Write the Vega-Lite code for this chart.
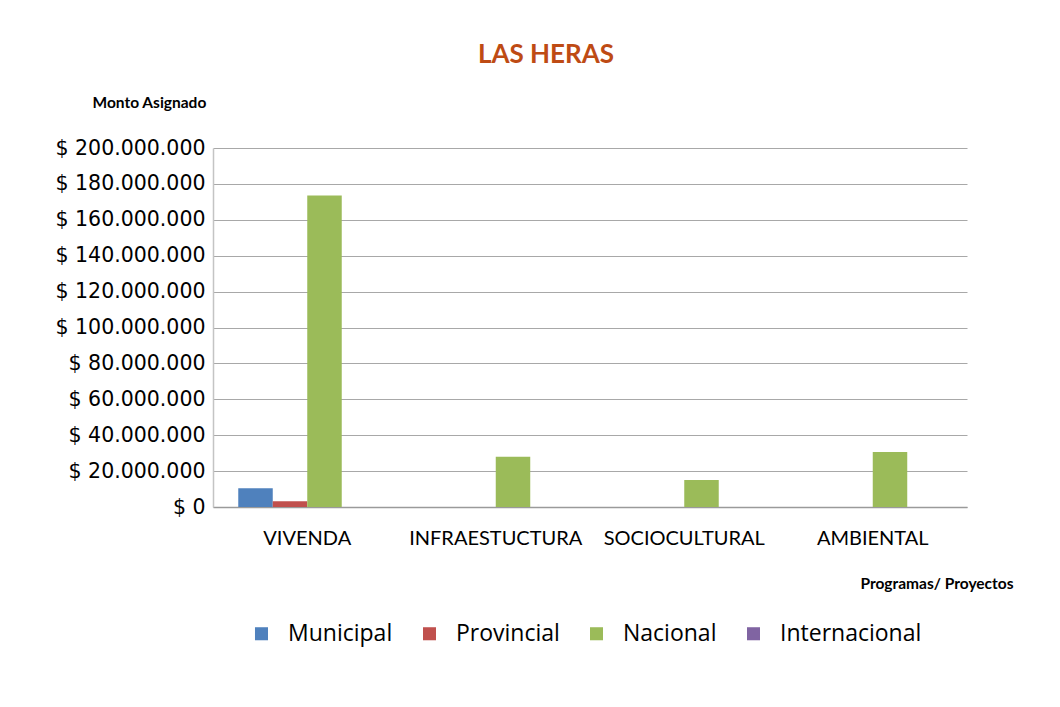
{
  "$schema": "https://vega.github.io/schema/vega-lite/v6.json",
  "width": 754,
  "height": 359,
  "autosize": {"type": "none"},
  "padding": {"left": 213, "top": 148, "right": 93, "bottom": 200},
  "background": "white",
  "title": {
    "text": "LAS HERAS",
    "font": "Lato",
    "fontSize": 26,
    "fontWeight": "bold",
    "color": "#BE4B14",
    "anchor": "middle",
    "frame": "group",
    "dx": -44,
    "dy": -23
  },
  "data": {
    "values": [
      {"programa": "VIVENDA", "fuente": "Municipal", "monto": 10400000},
      {"programa": "VIVENDA", "fuente": "Provincial", "monto": 3200000},
      {"programa": "VIVENDA", "fuente": "Nacional", "monto": 173500000},
      {"programa": "INFRAESTUCTURA", "fuente": "Nacional", "monto": 28000000},
      {"programa": "SOCIOCULTURAL", "fuente": "Nacional", "monto": 15000000},
      {"programa": "AMBIENTAL", "fuente": "Nacional", "monto": 30600000}
    ]
  },
  "mark": {"type": "bar"},
  "encoding": {
    "x": {
      "field": "programa",
      "type": "nominal",
      "sort": ["VIVENDA", "INFRAESTUCTURA", "SOCIOCULTURAL", "AMBIENTAL"],
      "scale": {"paddingInner": 0.268, "paddingOuter": 0.134},
      "axis": {
        "title": "Programas/ Proyectos",
        "titleFont": "Lato",
        "titleFontSize": 15.5,
        "titleFontWeight": "bold",
        "titleColor": "#000000",
        "titleAnchor": "end",
        "titleAlign": "right",
        "titleX": 800,
        "titleY": 69,
        "labelAngle": 0,
        "labelFont": "Lato",
        "labelFontSize": 20,
        "labelColor": "#000000",
        "labelPadding": 21,
        "ticks": false,
        "domainColor": "#9a9a9a",
        "domainWidth": 1.5
      }
    },
    "xOffset": {
      "field": "fuente",
      "type": "nominal",
      "scale": {"domain": ["Municipal", "Provincial", "Nacional", "Internacional"], "paddingInner": 0, "paddingOuter": 0}
    },
    "y": {
      "field": "monto",
      "type": "quantitative",
      "scale": {"domain": [0, 200000000], "nice": false},
      "axis": {
        "title": "Monto Asignado",
        "titleFont": "Lato",
        "titleFontSize": 15.5,
        "titleFontWeight": "bold",
        "titleColor": "#000000",
        "titleAngle": 0,
        "titleAlign": "left",
        "titleBaseline": "middle",
        "titleX": -121,
        "titleY": -46,
        "values": [0, 20000000, 40000000, 60000000, 80000000, 100000000, 120000000, 140000000, 160000000, 180000000, 200000000],
        "labelExpr": "'$ ' + replace(format(datum.value, ',.0f'), regexp(',', 'g'), '.')",
        "labelFont": "DejaVu Sans",
        "labelFontSize": 20.5,
        "labelColor": "#000000",
        "labelPadding": 8,
        "ticks": false,
        "grid": true,
        "gridColor": "#a8a8a8",
        "gridWidth": 1,
        "domainColor": "#c4c4c4",
        "domainWidth": 1.5
      }
    },
    "color": {
      "field": "fuente",
      "type": "nominal",
      "scale": {
        "domain": ["Municipal", "Provincial", "Nacional", "Internacional"],
        "range": ["#4F81BD", "#C0504D", "#9BBB59", "#8064A2"]
      },
      "legend": {
        "title": null,
        "orient": "none",
        "direction": "horizontal",
        "legendX": 37,
        "legendY": 474,
        "symbolType": "square",
        "symbolSize": 170,
        "symbolStrokeWidth": 0,
        "symbolOpacity": 1,
        "labelFont": "Open Sans",
        "labelFontSize": 23,
        "labelColor": "#000000",
        "labelOffset": 15,
        "columnPadding": 25
      }
    }
  },
  "config": {
    "view": {"stroke": null}
  }
}
